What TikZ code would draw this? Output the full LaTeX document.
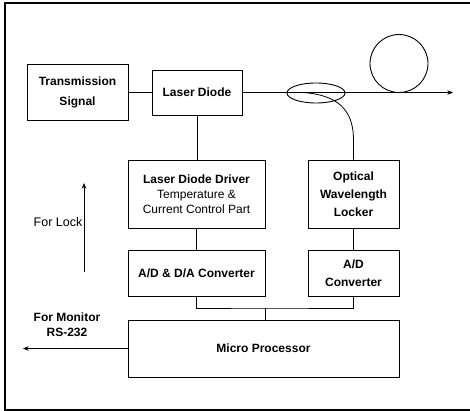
\documentclass[tikz,border=0pt]{standalone}
\usepackage{fontspec}
\setmainfont{Liberation Sans}
\usetikzlibrary{arrows.meta, shapes.geometric}
\tikzset{
  block/.style={draw, line width=0.9pt, align=center, inner sep=0pt, font=\fontsize{12}{15}\selectfont\bfseries},
  link/.style={line width=0.7pt},
  signal/.style={-{Stealth[length=2mm, width=1.6mm]}, line width=0.8pt},
  label/.style={inner sep=0pt, align=center, font=\fontsize{12}{15}\selectfont}
}

\begin{document}
\begin{tikzpicture}[x=1pt, y=-1pt]
\useasboundingbox (0,0) rectangle (470,411);
\draw[line width=1.1pt] (471,3) -- (5,3) -- (5,410) -- (471,410);

\node[block, minimum width=101pt, minimum height=56pt, font=\fontsize{12}{20}\selectfont\bfseries] (trans) at (77.5,92.5) {Transmission\\Signal};
\node[block, minimum width=90pt, minimum height=45pt] (ld) at (197,92.5) {Laser Diode};
\node[block, minimum width=137pt, minimum height=68pt] (ldd) at (196.5,194) {Laser Diode Driver\\\mdseries Temperature \&\\\mdseries Current Control Part};
\node[block, minimum width=91pt, minimum height=68pt, font=\fontsize{12}{18}\selectfont\bfseries] (owl) at (353.5,194) {Optical\\Wavelength\\Locker};
\node[block, minimum width=137pt, minimum height=46pt] (adda) at (196.5,273) {A/D \& D/A Converter};
\node[block, minimum width=91pt, minimum height=46pt, font=\fontsize{12}{18}\selectfont\bfseries] (ad) at (353.5,273) {A/D\\Converter};
\node[block, minimum width=271pt, minimum height=57pt] (mp) at (263.5,348.5) {Micro Processor};

\node[ellipse, draw, line width=0.9pt, minimum width=58pt, minimum height=20pt, inner sep=0pt] (coupler) at (316,93) {};
\node[circle, draw, line width=0.9pt, minimum size=58pt, inner sep=0pt] (loop) at (399,63.5) {};
\coordinate (fibreend) at (453,92.5);
\coordinate (tap) at (303,92.5);

\draw[link] (trans.east) -- (ld.west);
\draw[signal] (ld.east) -- (fibreend);
\draw[line width=0.8pt] (tap) .. controls (338,95) and (353.5,110) .. (353.5,140) -- (owl.north);

\draw[link] (ld.south) -- (ld.south |- ldd.north);
\draw[link] (ldd.south) -- (ldd.south |- adda.north);
\draw[link] (owl.south) -- (ad.north);

\coordinate (bus) at (265,308);
\draw[link] (adda.south) |- (bus) -| (ad.south);
\draw[link] (bus) -- (bus |- mp.north);

\coordinate (lockfoot) at (84,272);
\coordinate (lockhead) at (84,183);
\draw[signal] (lockfoot) -- (lockhead);
\node[label, anchor=east, font=\fontsize{12.5}{15}\selectfont] (lock) at (82.5,222) {For Lock};

\node[label, font=\fontsize{12}{15}\selectfont\bfseries] (monitor) at (67,324.5) {For Monitor\\RS-232};
\coordinate (rsout) at (23,348.5);
\draw[signal] (mp.west) -- (rsout);
\end{tikzpicture}
\end{document}
